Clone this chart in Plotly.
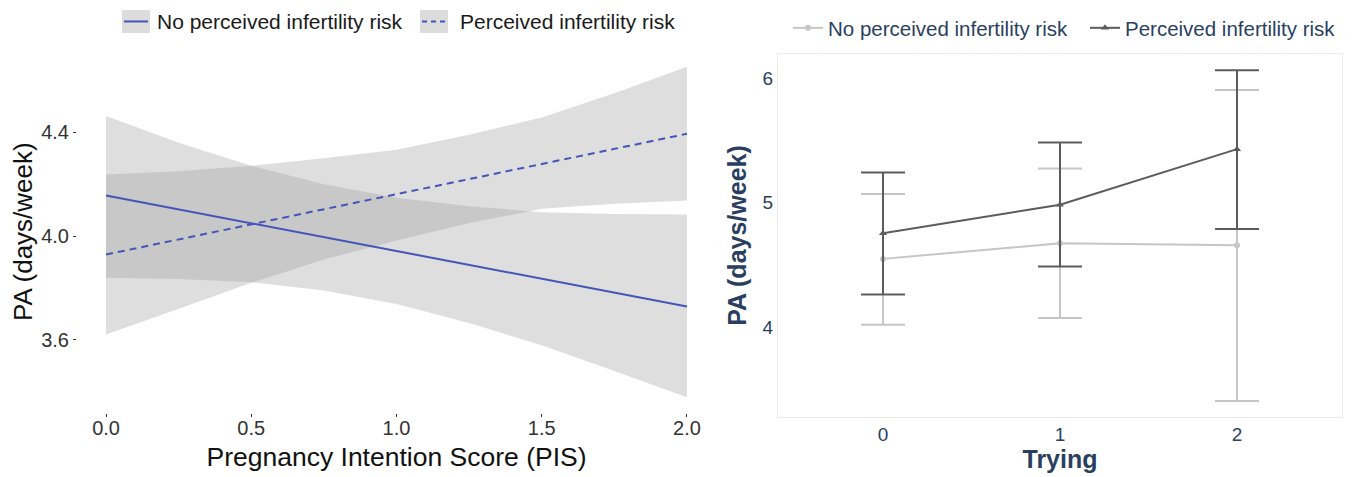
import plotly.graph_objects as go

# ---------------- Left panel data (PIS regression) ----------------
pis_line_x = [0.0, 2.0]
no_risk_fit = [4.156, 3.729]
risk_fit = [3.929, 4.394]

ribbon_x = [0.0, 0.25, 0.5, 0.75, 1.0, 1.25, 1.5, 1.75, 2.0]
no_risk_upper = [4.463, 4.36, 4.271, 4.20, 4.148, 4.115, 4.092, 4.085, 4.083]
no_risk_lower = [3.840, 3.835, 3.822, 3.79, 3.738, 3.665, 3.58, 3.48, 3.379]
risk_upper = [4.237, 4.25, 4.271, 4.30, 4.333, 4.39, 4.457, 4.55, 4.652]
risk_lower = [3.621, 3.72, 3.82, 3.91, 3.983, 4.05, 4.105, 4.125, 4.137]

left_xticks = [0.0, 0.5, 1.0, 1.5, 2.0]
left_xticklabels = ["0.0", "0.5", "1.0", "1.5", "2.0"]
left_yticks = [3.6, 4.0, 4.4]
left_yticklabels = ["3.6", "4.0", "4.4"]

# ---------------- Right panel data (Trying) ----------------
trying = ["0", "1", "2"]
no_risk_mean = [4.549, 4.674, 4.658]
no_risk_hi = [5.07, 5.275, 5.906]
no_risk_lo = [4.02, 4.075, 3.407]
risk_mean = [4.754, 4.984, 5.43]
risk_hi = [5.243, 5.484, 6.064]
risk_lo = [4.262, 4.487, 4.789]

series_names = ["No perceived infertility risk", "Perceived infertility risk"]

# the page body keeps an 8px margin: lay out in screen pixels, shifted by it
OFF = 8
W, H = 1355, 477
def px(x):
    return (x - OFF) / W
def py(y):
    return 1 - (y - OFF) / H

BLUE = "#4355b8"
RIB = "rgba(156,156,156,0.33)"
FONT = "Liberation Sans, Arial, sans-serif"
NAVY = "#2a3f5f"
LIGHT = "#c6c6c6"
DARK = "#5c5c5c"

fig = go.Figure()

# ribbons
for up, lo in [(no_risk_upper, no_risk_lower), (risk_upper, risk_lower)]:
    fig.add_trace(go.Scatter(
        x=ribbon_x + ribbon_x[::-1], y=up + lo[::-1],
        fill="toself", fillcolor=RIB, line=dict(width=0),
        mode="lines", hoverinfo="skip", showlegend=False,
        xaxis="x", yaxis="y"))

fig.add_trace(go.Scatter(x=pis_line_x, y=no_risk_fit, mode="lines",
                         line=dict(color=BLUE, width=2), showlegend=False,
                         xaxis="x", yaxis="y"))
fig.add_trace(go.Scatter(x=pis_line_x, y=risk_fit, mode="lines",
                         line=dict(color=BLUE, width=2, dash="7px,5px"), showlegend=False,
                         xaxis="x", yaxis="y"))

# right panel
fig.add_trace(go.Scatter(
    x=trying, y=no_risk_mean, name=series_names[0], mode="lines+markers",
    line=dict(color=LIGHT, width=2), marker=dict(symbol="circle", size=6, color=LIGHT),
    error_y=dict(type="data", symmetric=False,
                 array=[h - m for h, m in zip(no_risk_hi, no_risk_mean)],
                 arrayminus=[m - l for m, l in zip(no_risk_mean, no_risk_lo)],
                 color=LIGHT, thickness=2, width=22),
    xaxis="x2", yaxis="y2", legend="legend2"))
fig.add_trace(go.Scatter(
    x=trying, y=risk_mean, name=series_names[1], mode="lines+markers",
    line=dict(color=DARK, width=2), marker=dict(symbol="triangle-up", size=7, color=DARK),
    error_y=dict(type="data", symmetric=False,
                 array=[h - m for h, m in zip(risk_hi, risk_mean)],
                 arrayminus=[m - l for m, l in zip(risk_mean, risk_lo)],
                 color=DARK, thickness=2, width=22),
    xaxis="x2", yaxis="y2", legend="legend3"))

# left legend (ggplot style keys)
shapes = []
annotations = []
key_specs = [(122, 150, 155, "solid", series_names[0]), (420, 448, 458, "5px,4px", series_names[1])]
for x0, x1, tx, dash, label in key_specs:
    shapes.append(dict(type="rect", xref="paper", yref="paper",
                       x0=px(x0), x1=px(x1), y0=py(32), y1=py(9),
                       fillcolor="#dcdcdc", line=dict(width=0), layer="below"))
    shapes.append(dict(type="line", xref="paper", yref="paper",
                       x0=px(x0 + 2), x1=px(x1 - 2), y0=py(20.5), y1=py(20.5),
                       line=dict(color=BLUE, width=2, dash=dash)))
    annotations.append(dict(text=label, xref="paper", yref="paper", x=px(tx), y=py(21),
                            xanchor="left", yanchor="middle", showarrow=False,
                            font=dict(family=FONT, size=21, color="#1a1a1a")))

legend_style = dict(orientation="h", xanchor="left", yanchor="middle", y=py(27),
                    font=dict(family=FONT, size=20.5, color=NAVY), bgcolor="rgba(0,0,0,0)")

fig.update_layout(
    width=W, height=H, autosize=False,
    margin=dict(l=0, r=0, t=0, b=0),
    paper_bgcolor="white", plot_bgcolor="white",
    font=dict(family=FONT),
    shapes=shapes, annotations=annotations,
    xaxis=dict(domain=[px(77), px(716)], range=[-0.1, 2.1],
               tickvals=left_xticks, ticktext=left_xticklabels,
               ticks="outside", ticklen=3, tickcolor="#333", tickwidth=1,
               ticklabelstandoff=-6,
               showgrid=False, zeroline=False, showline=False,
               tickfont=dict(family=FONT, size=20, color="#333"),
               title=dict(text="Pregnancy Intention Score (PIS)", standoff=9,
                          font=dict(family=FONT, size=26.5, color="#111")),
               automargin=False),
    yaxis=dict(domain=[py(413), py(49.3)], range=[3.318, 4.716],
               tickvals=left_yticks, ticktext=left_yticklabels,
               ticks="outside", ticklen=3, tickcolor="#333", tickwidth=1,
               showgrid=False, zeroline=False, showline=False,
               tickfont=dict(family=FONT, size=20, color="#333"),
               title=dict(text="PA (days/week)", standoff=2,
                          font=dict(family=FONT, size=26, color="#111")),
               automargin=False),
    xaxis2=dict(domain=[px(778), px(1342)], type="category", range=[-0.593, 2.593],
                showgrid=False, zeroline=False, showline=True, mirror=True,
                linecolor="#ececec", linewidth=1, ticks="",
                tickfont=dict(family=FONT, size=19, color=NAVY),
                title=dict(text="<b>Trying</b>", standoff=4,
                           font=dict(family=FONT, size=25, color=NAVY)),
                automargin=False, anchor="y2"),
    yaxis2=dict(domain=[py(417), py(53)], range=[3.278, 6.195], dtick=1,
                showgrid=False, zeroline=False, showline=True, mirror=True,
                linecolor="#ececec", linewidth=1, ticks="",
                tickfont=dict(family=FONT, size=19, color=NAVY),
                title=dict(text="<b>PA (days/week)</b>", standoff=8,
                           font=dict(family=FONT, size=25, color=NAVY)),
                automargin=False, anchor="x2"),
    legend2=dict(x=px(788), **legend_style),
    legend3=dict(x=px(1085), **legend_style),
    showlegend=True,
)

fig.write_html("out.html", config={"responsive": False})
